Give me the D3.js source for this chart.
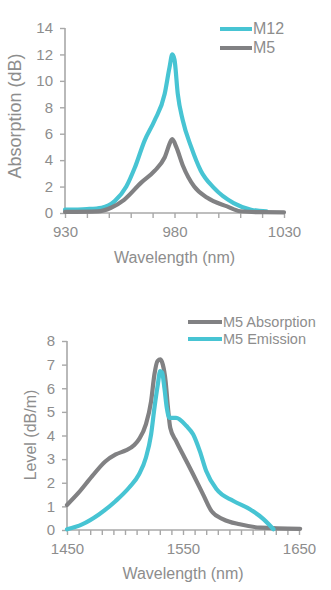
<!DOCTYPE html>
<html><head><meta charset="utf-8">
<script src="https://cdn.jsdelivr.net/npm/d3@7/dist/d3.min.js"></script>
<style>
html,body{margin:0;padding:0;background:#fff;}
svg{display:block;font-family:"Liberation Sans",Arial,sans-serif;}
</style></head>
<body>
<svg id="c" width="331" height="590"></svg>
<script>
// ---- Top chart data (Absorption, dB) ----
const topSeriesNames = ["M12", "M5"];
const topXTicks = [930, 980, 1030];
const topYTicks = [0, 2, 4, 6, 8, 10, 12, 14];
const m12Wavelength = [930, 940, 946.7, 952.7, 958, 961.8, 966.4, 970.9, 975.5, 977.7, 979, 980, 981.5, 983.8, 987.6, 992, 998, 1007, 1015, 1022];
const m12Absorption = [0.25, 0.3, 0.4, 0.9, 2.0, 3.4, 5.5, 7.0, 9.0, 11.0, 12.0, 11.6, 9.0, 7.0, 5.0, 3.2, 1.9, 0.75, 0.25, 0.12];
const m5Wavelength = [930, 945, 951, 957, 964.8, 971, 975.5, 978.5, 979, 980.8, 983.8, 989, 995, 1004, 1010, 1020, 1030];
const m5Absorption = [0.08, 0.12, 0.4, 1.0, 2.3, 3.2, 4.2, 5.5, 5.6, 5.0, 3.6, 2.0, 1.15, 0.5, 0.13, 0.06, 0.05];

// ---- Bottom chart data (Level, dB/m) ----
const bottomSeriesNames = ["M5 Absorption", "M5 Emission"];
const bottomXTicks = [1450, 1550, 1650];
const bottomYTicks = [0, 1, 2, 3, 4, 5, 6, 7, 8];
const absWavelength = [1450, 1460, 1471.7, 1483, 1492, 1500.7, 1508, 1512, 1518, 1522.5, 1525.4, 1528, 1530.6, 1532.6, 1535, 1537, 1539, 1544, 1551.4, 1558.7, 1567.4, 1574.6, 1584.8, 1599, 1616.7, 1651];
const absLevel = [1.06, 1.58, 2.28, 2.9, 3.2, 3.37, 3.6, 3.84, 4.47, 5.45, 6.6, 7.15, 7.22, 7.0, 6.3, 5.2, 4.33, 3.77, 3.06, 2.36, 1.5, 0.8, 0.45, 0.24, 0.1, 0.05];
const emiWavelength = [1450, 1463, 1477.5, 1492, 1503.6, 1512, 1518, 1522.5, 1525.4, 1528.3, 1530.3, 1532, 1534, 1536, 1538.4, 1544, 1553, 1558.7, 1564.5, 1570, 1579, 1593.5, 1608, 1619.6, 1628];
const emiLevel = [0.03, 0.24, 0.66, 1.23, 1.8, 2.35, 3.06, 4.05, 5.18, 6.16, 6.73, 6.66, 6.0, 5.18, 4.75, 4.75, 4.4, 4.05, 3.34, 2.5, 1.72, 1.23, 0.87, 0.45, 0.03];

const CYAN = "#47c4d3", GRAY = "#818183", AXIS = "#a8a8a8", TEXT = "#8d8d8d";
const svg = d3.select("#c");

function panel(cfg) {
  const g = svg.append("g");
  const x = d3.scaleLinear().domain(cfg.xDomain).range(cfg.xRange);
  const y = d3.scaleLinear().domain(cfg.yDomain).range(cfg.yRange);

  // y axis
  const ya = g.append("g").attr("transform", `translate(${cfg.xRange[0]},0)`)
    .call(d3.axisLeft(y).tickValues(cfg.yTicks).tickSize(5).tickPadding(7).tickFormat(d3.format("d")));
  // x axis minor ticks
  const minor = d3.range(cfg.xDomain[0], cfg.xDomain[1] + 0.1, 10);
  const xa = g.append("g").attr("transform", `translate(0,${cfg.yRange[0]})`)
    .call(d3.axisBottom(x).tickValues(minor).tickSize(5).tickFormat(() => ""));
  const xl = g.append("g").attr("transform", `translate(0,${cfg.yRange[0]})`)
    .call(d3.axisBottom(x).tickValues(cfg.xTicks).tickSize(0).tickPadding(cfg.xPad).tickFormat(d3.format("d")));
  xl.select(".domain").remove();
  [ya, xa, xl].forEach(a => {
    a.select(".domain").attr("stroke", AXIS).attr("stroke-width", 1.6);
    a.selectAll(".tick line").attr("stroke", AXIS).attr("stroke-width", 1.4);
    a.selectAll("text").attr("fill", TEXT).style("font-size", "15px").attr("font-family", "Liberation Sans, Arial, sans-serif");
  });
  ya.select(".domain").attr("d", `M0,${cfg.yRange[0]}V${cfg.yRange[1]}`);
  xa.select(".domain").attr("d", `M${cfg.xRange[0]},0H${cfg.xRange[1]}`);

  // titles
  g.append("text").attr("x", (cfg.xRange[0] + cfg.xRange[1]) / 2).attr("y", cfg.xTitleY)
    .attr("text-anchor", "middle").attr("fill", TEXT).style("font-size", cfg.xTitleSize + "px").text("Wavelength (nm)");
  g.append("text").attr("transform", `translate(${cfg.yTitleX},${cfg.yTitleCY}) rotate(-90)`)
    .attr("text-anchor", "middle").attr("fill", TEXT).style("font-size", cfg.yTitleSize + "px").text(cfg.yTitle);

  // lines
  const line = d3.line().x(d => x(d[0])).y(d => y(d[1])).curve(d3.curveMonotoneX);
  cfg.series.forEach(s => {
    g.append("path").datum(d3.zip(s.x, s.y)).attr("d", line)
      .attr("fill", "none").attr("stroke", s.color).attr("stroke-width", 4.2)
      .attr("stroke-linejoin", "round").attr("stroke-linecap", "round");
  });

  // legend
  cfg.legend.forEach((l, i) => {
    const ly = cfg.legendY[i];
    g.append("line").attr("x1", cfg.legendX[0]).attr("x2", cfg.legendX[1]).attr("y1", ly).attr("y2", ly)
      .attr("stroke", l.color).attr("stroke-width", 4);
    g.append("text").attr("x", cfg.legendX[1] + 1).attr("y", ly + 5).attr("fill", TEXT)
      .style("font-size", cfg.legendSize + "px").text(l.name);
  });
}

panel({
  xDomain: [930, 1030], xRange: [65, 284], yDomain: [0, 14], yRange: [213, 28],
  xTicks: topXTicks, yTicks: topYTicks, xPad: 13,
  xTitleY: 263, xTitleSize: 16, yTitle: "Absorption (dB)", yTitleX: 21, yTitleCY: 116, yTitleSize: 18,
  series: [
    {x: m12Wavelength, y: m12Absorption, color: CYAN},
    {x: m5Wavelength, y: m5Absorption, color: GRAY}
  ],
  legend: [{name: topSeriesNames[0], color: CYAN}, {name: topSeriesNames[1], color: GRAY}],
  legendX: [220, 252], legendY: [29, 48], legendSize: 16
});

panel({
  xDomain: [1450, 1650], xRange: [67, 299], yDomain: [0, 8], yRange: [530, 341],
  xTicks: bottomXTicks, yTicks: bottomYTicks, xPad: 13,
  xTitleY: 579, xTitleSize: 16, yTitle: "Level (dB/m)", yTitleX: 36, yTitleCY: 435, yTitleSize: 16,
  series: [
    {x: absWavelength, y: absLevel, color: GRAY},
    {x: emiWavelength, y: emiLevel, color: CYAN}
  ],
  legend: [{name: bottomSeriesNames[0], color: GRAY}, {name: bottomSeriesNames[1], color: CYAN}],
  legendX: [188, 222], legendY: [322, 339], legendSize: 14.5
});
</script>
</body></html>
